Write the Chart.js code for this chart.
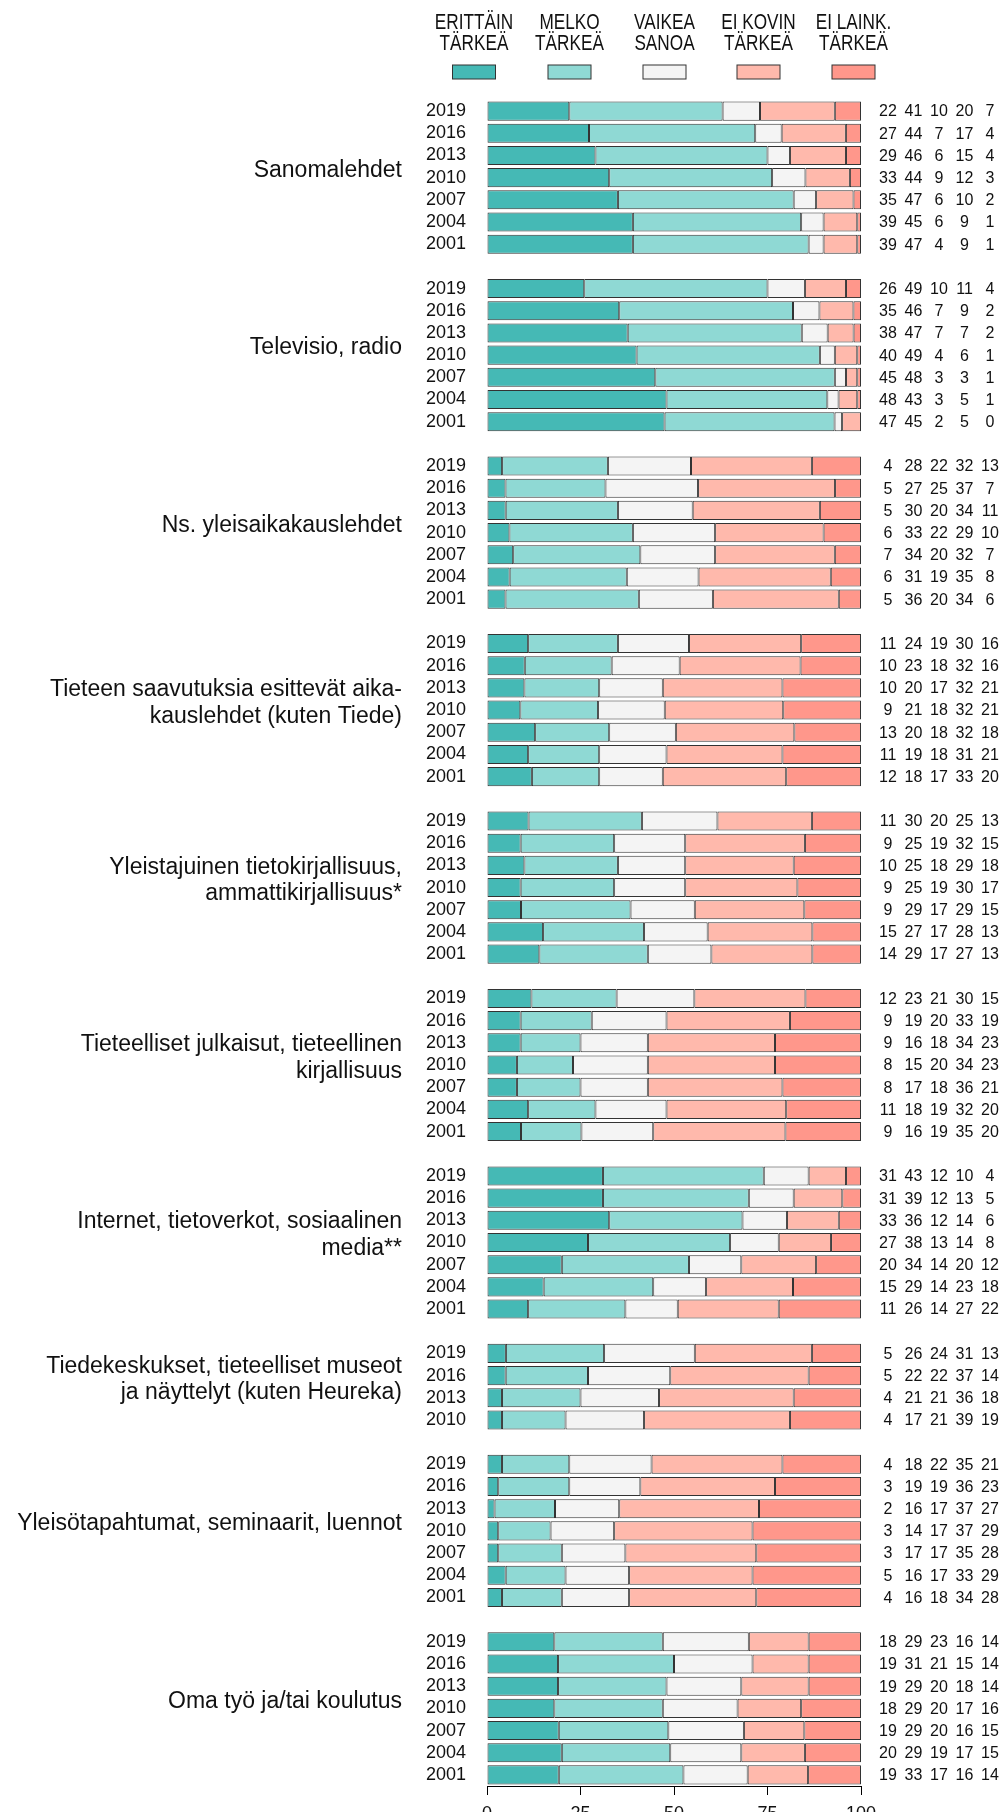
<!DOCTYPE html>
<html>
<head>
<meta charset="utf-8">
<script src="https://cdn.jsdelivr.net/npm/chart.js@4.4.1/dist/chart.umd.min.js"></script>
<style>
  html, body { margin: 0; padding: 0; background: #fff; }
  #wrap { width: 1008px; height: 1812px; }
</style>
</head>
<body>
<div id="wrap"><canvas id="chart"></canvas></div>
<script>
const FONT = '"Liberation Sans", Arial, sans-serif';

// answer options (legend)
const seriesNames = [['ERITTÄIN', 'TÄRKEÄ'], ['MELKO', 'TÄRKEÄ'], ['VAIKEA', 'SANOA'], ['EI KOVIN', 'TÄRKEÄ'], ['EI LAINK.', 'TÄRKEÄ']];
const seriesColors = ['#45b9b5', '#8fd9d4', '#f4f4f4', '#ffb9ac', '#ff978b'];

const years7 = ['2019', '2016', '2013', '2010', '2007', '2004', '2001'];
const years4 = ['2019', '2016', '2013', '2010'];
const xTicks = [0, 25, 50, 75, 100];

// shares per year: erittäin, melko, vaikea sanoa, ei kovin, ei lainkaan
const sanomalehdet = [[22,41,10,20,7],[27,44,7,17,4],[29,46,6,15,4],[33,44,9,12,3],[35,47,6,10,2],[39,45,6,9,1],[39,47,4,9,1]];
const televisio = [[26,49,10,11,4],[35,46,7,9,2],[38,47,7,7,2],[40,49,4,6,1],[45,48,3,3,1],[48,43,3,5,1],[47,45,2,5,0]];
const yleisaikakaus = [[4,28,22,32,13],[5,27,25,37,7],[5,30,20,34,11],[6,33,22,29,10],[7,34,20,32,7],[6,31,19,35,8],[5,36,20,34,6]];
const tiedelehdet = [[11,24,19,30,16],[10,23,18,32,16],[10,20,17,32,21],[9,21,18,32,21],[13,20,18,32,18],[11,19,18,31,21],[12,18,17,33,20]];
const tietokirjat = [[11,30,20,25,13],[9,25,19,32,15],[10,25,18,29,18],[9,25,19,30,17],[9,29,17,29,15],[15,27,17,28,13],[14,29,17,27,13]];
const julkaisut = [[12,23,21,30,15],[9,19,20,33,19],[9,16,18,34,23],[8,15,20,34,23],[8,17,18,36,21],[11,18,19,32,20],[9,16,19,35,20]];
const internet = [[31,43,12,10,4],[31,39,12,13,5],[33,36,12,14,6],[27,38,13,14,8],[20,34,14,20,12],[15,29,14,23,18],[11,26,14,27,22]];
const tiedekeskukset = [[5,26,24,31,13],[5,22,22,37,14],[4,21,21,36,18],[4,17,21,39,19]];
const tapahtumat = [[4,18,22,35,21],[3,19,19,36,23],[2,16,17,37,27],[3,14,17,37,29],[3,17,17,35,28],[5,16,17,33,29],[4,16,18,34,28]];
const omaTyo = [[18,29,23,16,14],[19,31,21,15,14],[19,29,20,18,14],[18,29,20,17,16],[19,29,20,16,15],[20,29,19,17,15],[19,33,17,16,14]];

const groups = [
  { name: ['Sanomalehdet'], years: years7, rows: sanomalehdet },
  { name: ['Televisio, radio'], years: years7, rows: televisio },
  { name: ['Ns. yleisaikakauslehdet'], years: years7, rows: yleisaikakaus },
  { name: ['Tieteen saavutuksia esittevät aika-', 'kauslehdet (kuten Tiede)'], years: years7, rows: tiedelehdet },
  { name: ['Yleistajuinen tietokirjallisuus,', 'ammattikirjallisuus*'], years: years7, rows: tietokirjat },
  { name: ['Tieteelliset julkaisut, tieteellinen', 'kirjallisuus'], years: years7, rows: julkaisut },
  { name: ['Internet, tietoverkot, sosiaalinen', 'media**'], years: years7, rows: internet },
  { name: ['Tiedekeskukset, tieteelliset museot', 'ja näyttelyt (kuten Heureka)'], years: years4, rows: tiedekeskukset },
  { name: ['Yleisötapahtumat, seminaarit, luennot'], years: years7, rows: tapahtumat },
  { name: ['Oma työ ja/tai koulutus'], years: years7, rows: omaTyo }
];

// flatten into one category axis, empty row between groups
const labels = [];
const rowValues = [];
const groupSpans = [];
groups.forEach((g, gi) => {
  if (gi > 0) { labels.push(''); rowValues.push(null); }
  const first = labels.length;
  g.years.forEach((y, i) => { labels.push(y); rowValues.push(g.rows[i]); });
  groupSpans.push({ name: g.name, first, last: labels.length - 1 });
});

// printed figures are rounded, bars are drawn as shares of the row total
const datasets = seriesNames.map((n, s) => ({
  label: n.join(' '),
  data: rowValues.map(r => {
    if (!r) return null;
    const total = r.reduce((a, b) => a + b, 0);
    return r[s] * 100 / total;
  }),
  backgroundColor: seriesColors[s],
  borderColor: '#333',
  borderWidth: 1,
  borderSkipped: false,
  categoryPercentage: 1,
  barPercentage: 0.86
}));

const textPlugin = {
  id: 'textPlugin',
  afterDraw(chart) {
    const ctx = chart.ctx;
    const yScale = chart.scales.y;
    ctx.save();
    ctx.fillStyle = '#111';

    // group names on the left
    ctx.font = '23px ' + FONT;
    ctx.textAlign = 'right';
    ctx.textBaseline = 'middle';
    groupSpans.forEach(g => {
      const mid = (yScale.getPixelForValue(g.first) + yScale.getPixelForValue(g.last)) / 2 - 7;
      const lh = 26.7;
      const top = mid - (g.name.length - 1) * lh / 2;
      g.name.forEach((line, i) => ctx.fillText(line, 402, top + i * lh));
    });

    // values on the right
    ctx.font = '16px ' + FONT;
    ctx.textAlign = 'center';
    const cols = [888, 913.5, 939, 964.5, 990];
    rowValues.forEach((r, i) => {
      if (!r) return;
      const y = yScale.getPixelForValue(i) + 1;
      r.forEach((v, s) => ctx.fillText(String(v), cols[s], y));
    });

    // legend at top
    const lx = [474, 569.5, 664.5, 758.5, 853.5];
    seriesNames.forEach((n, s) => {
      ctx.save();
      ctx.translate(lx[s], 0);
      ctx.scale(0.8, 1);
      ctx.font = '21.5px ' + FONT;
      ctx.textAlign = 'center';
      ctx.textBaseline = 'alphabetic';
      ctx.fillStyle = '#111';
      ctx.fillText(n[0], 0, 28.5);
      ctx.fillText(n[1], 0, 50);
      ctx.restore();
      ctx.fillStyle = seriesColors[s];
      ctx.fillRect(lx[s] - 21.5, 65, 43, 14);
      ctx.strokeStyle = '#333';
      ctx.lineWidth = 1;
      ctx.strokeRect(lx[s] - 21.5, 65, 43, 14);
    });
    ctx.restore();
  }
};

new Chart(document.getElementById('chart'), {
  type: 'bar',
  data: { labels, datasets },
  plugins: [textPlugin],
  options: {
    indexAxis: 'y',
    responsive: true,
    maintainAspectRatio: false,
    animation: false,
    layout: { padding: { top: 100, right: 147, left: 0, bottom: 0 } },
    plugins: { legend: { display: false }, tooltip: { enabled: false } },
    scales: {
      x: {
        stacked: true,
        min: 0,
        max: 100,
        afterBuildTicks: s => { s.ticks = xTicks.map(v => ({ value: v })); },
        ticks: { font: { size: 18, family: FONT }, color: '#111', padding: 8, maxRotation: 0 },
        grid: { drawOnChartArea: false, drawTicks: true, tickLength: 9, color: '#000' },
        border: { display: true, color: '#000', width: 1 },
        afterFit: s => { s.height = 26; }
      },
      y: {
        stacked: true,
        ticks: { autoSkip: false, font: { size: 18, family: FONT }, color: '#111', padding: 13 },
        grid: { display: false },
        border: { display: false },
        afterFit: s => { s.width = 487; }
      }
    }
  }
});
</script>
</body>
</html>
